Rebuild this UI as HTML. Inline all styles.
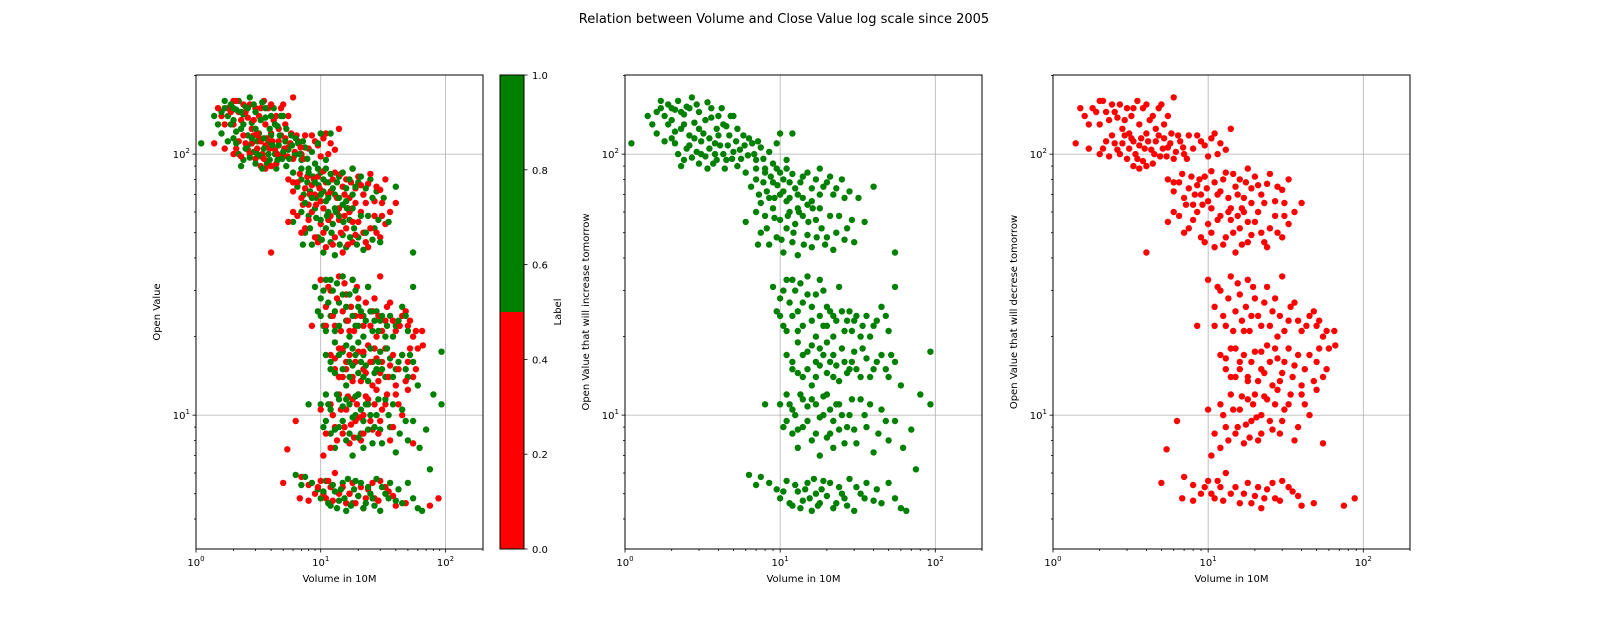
<!DOCTYPE html>
<html><head><meta charset="utf-8"><style>
body{margin:0;background:#fff}
svg{display:block;font-family:"DejaVu Sans","Liberation Sans",sans-serif}
</style></head><body>
<svg id="c" width="1600" height="640"></svg>
<script>
const greenPts=[[1.1,110],[1.5,130],[1.6,145],[1.7,150],[1.8,140],[1.9,155],[2,135],[2.1,148],[2.2,160],[2.3,125],[2.4,142],[2.5,152],[2.6,118],[2.7,165],[2.8,132],[3,145],[3.2,120],[3.4,158],[3.6,138],[3.8,110],[4.2,150],[4.5,128],[5,140],[2,115],[2.2,100],[2.4,95],[2.6,108],[2.9,102],[3.1,112],[3.3,98],[3.5,105],[3.7,92],[4,118],[4.3,100],[4.6,108],[4.9,96],[5.2,112],[5.5,104],[5.8,118],[6.2,99],[6.6,110],[7,95],[7.5,106],[8,88],[1.8,112],[2.1,122],[3.9,125],[4.4,88],[5.3,90],[6,85],
[6.5,75],[7,80],[7.3,70],[7.8,78],[8.2,72],[8.7,82],[9.2,68],[9.6,76],[10,85],[10.5,72],[11,66],[11.5,78],[12,120],[13,70],[14,82],[15,64],[16,74],[18,88],[20,78],[22,70],[25,80],[28,72],[32,68],[40,75],
[6,55],[7,60],[7.5,50],[8,58],[8.5,45],[9,62],[9.5,48],[10,56],[10.5,42],[11,52],[11.5,60],[12,46],[12.5,54],[13,41],[14,58],[15,49],[16,44],[17,56],[18,62],[20,48],[22,43],[24,58],[27,52],[30,46],[35,55],[55,42],[9,31],[9.5,25],[10,28],[10.5,22],[11,33],[12,24],[12.5,30],[13,21],[14,27],[15,34],[16,23],[17,29],[18,33],[19,22],[20,26],[22,24],[24,31],[26,21],[28,25],[30,23],[33,20],[36,24],[40,22],[45,26],[50,21],[55,31],
[11,17],[12,15],[13,19],[14,14],[15,17.5],[16,13],[17,16],[18,18],[20,14.5],[22,17],[24,13.5],[26,16],[28,15],[30,17.5],[33,14],[36,16.5],[40,15],[45,17],[50,14],[55,16],[60,13],[93,17.5],
[10,11],[10.5,9],[11,12],[12,8.5],[12.5,10],[13,7.5],[14,11.5],[15,9.5],[16,8],[17,11],[18,7],[19,10],[20,12],[21,8.5],[22,9.5],[24,11],[26,7.8],[28,10],[30,8.8],[33,11.5],[36,9],[40,7.2],[45,10.5],[50,8],[55,9.5],[62,7.5],[70,8.8],[80,12],[93,11],[8,11],[75,6.2],
[7.5,5.8],[8.5,5.5],[9.5,5.2],[10,4.8],[11,5.6],[12,4.5],[13,5.1],[14,4.7],[15,5.5],[16,4.3],[17,5],[18,4.6],[19,5.6],[20,4.9],[22,4.4],[24,5.3],[26,4.8],[28,5.7],[30,4.3],[33,5],[36,5.5],[40,4.7],[50,5.5],[60,4.4],[65,4.3],[45,4.6],[6.3,5.9],[7,5.4],
[1.4,140],[1.6,120],[1.7,160],[1.9,130],[2,150],[2.1,110],[2.3,145],[2.4,130],[2.5,105],[2.6,150],[2.8,115],[2.9,155],[3,125],[3.1,100],[3.3,135],[3.5,115],[3.6,150],[3.8,100],[4,140],[4.1,108],[4.3,130],[4.5,95],[4.7,118],[4.8,140],[5,102],[5.3,125],[5.6,96],[5.9,108],[6.3,115],[6.8,100],[7.2,112],[7.8,96],[8.5,102],[9,92],[9.5,110],[10,120],[11,95],[2.3,90],[2.7,97],[3,92],[3.4,88],[3.9,95],
[7,88],[7.5,65],[8,85],[8.5,68],[9,78],[9.5,88],[10,70],[10.5,80],[11,88],[11.5,68],[12,84],[12.5,74],[13,62],[13.5,78],[14,68],[15,85],[16,66],[17,80],[18,70],[19,75],[21,82],[23,74],[26,68],[7.2,45],[8.2,52],[9.2,57],[10.2,47],[11.2,58],[12.2,50],[13.2,60],[14.2,45],[15.2,55],[16.2,62],[17.2,48],[18.5,52],[19.5,45],[21,58],[23,50],[26,47],[29,56],
[10,24],[10.5,30],[11,21],[11.5,27],[12,33],[13,25],[13.5,32],[14,22],[15,29],[16,26],[17,20],[18,24],[19,30],[20,22],[21,25],[22,20],[23,23],[25,25],[27,23],[29,21],[31,24],[34,22],[38,20],[42,23],[48,24],
[12,16],[13,14.5],[14,17],[15,15],[16,18.5],[17,14],[18,15.5],[19,17],[20,19],[21,16],[22,14],[23,15.5],[25,18],[27,14.5],[29,16],[31,15],[34,18],[38,14],[42,16],[48,15],[52,17],
[11,9.5],[11.5,11],[12,10.5],[13,8.8],[13.5,12],[14,9],[15,10.8],[16,11.5],[17,8.5],[18,9.8],[19,11.8],[20,8.2],[21,10.5],[22,7.5],[23,11],[24,8.8],[25,10],[27,9],[29,11.5],[31,7.8],[35,10],[38,11],[43,8.5],[48,9.5],
[10.5,5.1],[11.5,4.6],[12.5,5.4],[13.5,4.4],[14.5,5.2],[15.5,4.8],[16.5,5.7],[17.5,4.5],[18.5,5.2],[21,5.5],[23,4.6],[25,5],[27,4.5],[31,5.3],[35,4.8],[42,5.2],[55,4.8]];
const redPts=[[1.4,110],[1.6,140],[1.8,150],[2,130],[2,160],[2.2,145],[2.4,155],[2.6,138],[2.8,125],[3,150],[3.2,140],[3.5,160],[3.8,150],[4.2,135],[4.6,125],[5,155],[5.5,140],[6,165],[1.7,105],[2,100],[2.2,112],[2.4,118],[2.6,104],[2.8,110],[3,96],[3.2,115],[3.4,100],[3.6,108],[3.8,94],[4,120],[4.3,104],[4.6,112],[4.9,98],[5.2,115],[5.5,106],[5.8,120],[6.2,102],[6.6,112],[7,100],[7.5,118],[8,105],[9,112],[10,98],[11,120],[12,110],[13,104],[14,125],[3.3,90],[4.4,92],
[5.5,80],[6,72],[6.5,78],[7,68],[7.5,74],[8,64],[8.5,76],[9,70],[9.5,82],[10,66],[11,78],[12,72],[13,85],[14,62],[15,75],[16,80],[17,68],[18,88],[19,74],[20,82],[22,70],[24,77],[27,66],[30,73],[33,80],[36,60],
[5.5,55],[6.5,58],[7.5,52],[8.5,60],[9.5,46],[10,54],[10.5,62],[11,44],[12,58],[13,48],[14,56],[15,42],[16,52],[17,60],[18,46],[20,55],[22,50],[24,44],[27,58],[30,48],[33,54],[40,65],[4,42],
[10,33],[11,26],[12,30],[13,22],[14,34],[15,25],[16,29],[17,21],[18,33],[19,24],[20,28],[22,22],[24,31],[26,25],[28,20],[30,34],[33,23],[36,27],[40,21],[45,24],[50,22],[55,20],[65,21],[8.5,22],
[12,17],[13,15],[14,18],[15,14],[16,16],[18,13.5],[20,17.5],[22,15],[24,18.5],[26,13],[28,16.5],[30,14.5],[33,18],[36,15.5],[40,13],[45,17],[50,16],[55,14],[60,18],[66,18.5],[12,11],[13,9],[14,12],[15,8.5],[16,10.5],[17,7.8],[18,11.5],[19,9.5],[20,12],[21,8],[22,10],[24,11.5],[26,8.8],[28,12.5],[30,9.5],[33,11],[36,8],[40,12],[45,10],[50,12.5],[55,7.8],[10,10.5],[10.5,7],[6.3,9.5],
[5.4,7.4],[5,5.5],[7,5.8],[8,5.4],[9,5],[10,5.6],[11,4.8],[12,5.3],[13,6],[14,5],[16,4.6],[18,5.5],[20,4.9],[22,4.4],[24,5.2],[27,4.8],[30,5.6],[35,5.1],[40,4.5],[48,4.6],[75,4.5],[88,4.8],[8,4.7],[6.8,4.8],
[1.5,150],[1.7,130],[1.9,145],[2.1,160],[2.3,135],[2.5,145],[2.7,155],[2.9,135],[3.1,120],[3.3,150],[3.6,130],[4,155],[4.4,140],[4.8,150],[5.2,130],[2.1,105],[2.3,98],[2.5,110],[2.7,100],[2.9,118],[3.1,105],[3.3,112],[3.5,96],[3.7,115],[3.9,105],[4.1,112],[4.5,100],[4.8,118],[5.1,105],[5.4,98],[5.7,110],[6,96],[6.4,118],[6.9,106],[7.3,96],[8.5,118],[9.5,108],[10.5,115],[11.5,100],[4,90],[3.6,88],
[6,78],[6.8,84],[7.2,64],[7.8,82],[8.2,70],[8.8,80],[9.2,64],[9.8,74],[10.5,86],[11.5,70],[12.5,80],[13.5,68],[14.5,84],[15.5,70],[16.5,62],[17.5,78],[19,65],[21,76],[23,65],[25,84],[28,75],[31,65],[6,60],[7,50],[8,56],[9,48],[10.5,50],[11.5,56],[12.5,45],[13.5,60],[14.5,50],[15.5,58],[16.5,45],[18,55],[19,49],[21,60],[23,46],[25,52],[28,50],[31,58],
[11,22],[11.5,31],[12.5,24],[13.5,28],[14.5,21],[15.5,32],[16.5,23],[17.5,26],[18.5,21],[19.5,31],[21,24],[23,27],[25,22],[27,28],[29,24],[31,21],[34,26],[38,23],[43,22],[48,25],[52,23],[58,21],[13,16.5],[14,14],[15,18],[16,15],[17,17],[18,14],[19,16],[21,13.5],[22,17.5],[23,14.5],[25,16],[27,18],[29,13.5],[31,16],[35,14],[38,17],[42,15],[48,13.5],[52,18],[58,15],
[12.5,10],[13.5,8],[14.5,10.5],[15.5,9],[16.5,11.8],[17.5,9.2],[18.5,8.2],[19.5,11],[20.5,9.8],[22,8.5],[23,11.8],[25,9.5],[27,11],[29,8.5],[31,10.5],[34,12],[38,9],[42,11],[11,8.5],[12,7.5],
[9.5,5.3],[10.5,5],[11.5,5.6],[12.5,4.7],[15,5.3],[17,5],[19,4.6],[21,5.3],[23,4.8],[26,5.5],[29,4.7],[33,5.3],[38,4.9]];
const cbTicks=["0.0","0.2","0.4","0.6","0.8","1.0"];
const xDomain=[1,200], yDomain=[3.07,201];

const NS="http://www.w3.org/2000/svg";
const svg=document.getElementById('c');
function el(t,a,p){const e=document.createElementNS(NS,t);for(const k in a)e.setAttribute(k,a[k]);(p||svg).appendChild(e);return e;}
const title=el('text',{x:784,y:23,'text-anchor':'middle','font-size':13});
title.textContent='Relation between Volume and Close Value log scale since 2005';



function panel(name,x0,x1,pts,ylabel){
  const y0=75,y1=549;
  const g=el('g',{});
  
  
  const lx=Math.log10(xDomain[0]),hx=Math.log10(xDomain[1]),ly=Math.log10(yDomain[0]),hy=Math.log10(yDomain[1]);
  const sx=v=>x0+(Math.log10(v)-lx)/(hx-lx)*(x1-x0);
  const sy=v=>y1-(Math.log10(v)-ly)/(hy-ly)*(y1-y0);
  [1,10,100].forEach(v=>{const X=sx(v);if(X>x0+1&&X<x1)el('line',{x1:X,x2:X,y1:y0,y2:y1,stroke:'#b0b0b0','stroke-width':0.8},g);});
  [10,100].forEach(v=>{const Y=sy(v);el('line',{x1:x0,x2:x1,y1:Y,y2:Y,stroke:'#b0b0b0','stroke-width':0.8},g);});
  pts.forEach(p=>{const c=el('circle',{cx:sx(p[0]).toFixed(1),cy:sy(p[1]).toFixed(1),r:3.2,fill:p[2]},g);
    
    });
  el('rect',{x:x0,y:y0,width:x1-x0,height:y1-y0,fill:'none',stroke:'#000','stroke-width':1},g);
  for(let d=1;d<=100;d*=10)for(let m=1;m<10;m++){const v=d*m;if(v>xDomain[1])break;const X=sx(v);
    el('line',{x1:X,x2:X,y1:y1,y2:y1+(m==1?3.5:2),stroke:'#000','stroke-width':0.8},g);
    if(m==1){const t=el('text',{x:X,y:y1+17,'text-anchor':'middle','font-size':10},g);
      t.innerHTML='10<tspan dy="-5" font-size="7">'+Math.log10(d)+'</tspan>';}}
  for(let d=1;d<=100;d*=10)for(let m=1;m<10;m++){const v=d*m;if(v<yDomain[0]||v>yDomain[1])continue;const Y=sy(v);
    el('line',{x1:x0,x2:x0-(m==1?3.5:2),y1:Y,y2:Y,stroke:'#000','stroke-width':0.8},g);
    if(m==1){const t=el('text',{x:x0-6,y:Y+4,'text-anchor':'end','font-size':10},g);
      t.innerHTML='10<tspan dy="-5" font-size="7">'+Math.log10(d)+'</tspan>';}}
  const xl=el('text',{x:(x0+x1)/2,y:582,'text-anchor':'middle','font-size':10},g);xl.textContent='Volume in 10M';
  
  
  const yl=el('text',{x:0,y:0,'text-anchor':'middle','font-size':10,transform:`translate(${x0-36},${(y0+y1)/2}) rotate(-90)`},g);yl.textContent=ylabel;
  
  
}
const combined=[];const n=Math.max(greenPts.length,redPts.length);
for(let i=0;i<n;i++){if(greenPts[i])combined.push([greenPts[i][0],greenPts[i][1],'#008000']);if(redPts[i])combined.push([redPts[i][0],redPts[i][1],'#ff0000']);}
panel('panel-all',196,483,combined,'Open Value');
panel('panel-increase',625,982,greenPts.map(p=>[p[0],p[1],'#008000']),'Open Value that will increase tomorrow');
panel('panel-decrease',1053,1410,redPts.map(p=>[p[0],p[1],'#ff0000']),'Open Value that will decrese tomorrow');
const cb=el('g',{});


const cx0=500,cx1=524,cy0=75,cy1=549;
const cy=v=>cy1-v*(cy1-cy0);
el('rect',{x:cx0,y:cy(1),width:cx1-cx0,height:cy(0.5)-cy(1),fill:'#008000'},cb);
el('rect',{x:cx0,y:cy(0.5),width:cx1-cx0,height:cy(0)-cy(0.5),fill:'#ff0000'},cb);
el('rect',{x:cx0,y:cy0,width:cx1-cx0,height:cy1-cy0,fill:'none',stroke:'#000','stroke-width':1},cb);
cbTicks.forEach(s=>{const Y=cy(parseFloat(s));el('line',{x1:cx1,x2:cx1+3.5,y1:Y,y2:Y,stroke:'#000','stroke-width':0.8},cb);
  const t=el('text',{x:cx1+8,y:Y+4,'font-size':10},cb);t.textContent=s;});
const cl=el('text',{x:0,y:0,'text-anchor':'middle','font-size':10,transform:`translate(${561},${312}) rotate(-90)`},cb);cl.textContent='Label';


</script>
</body></html>
